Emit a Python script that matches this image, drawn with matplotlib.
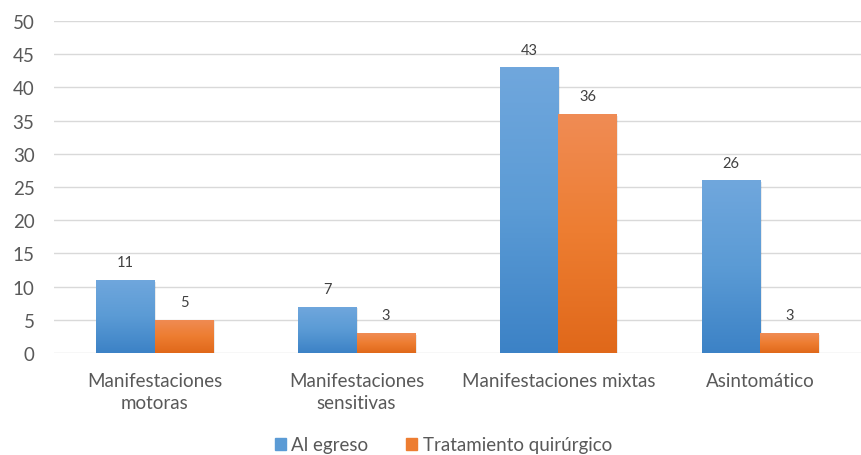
import matplotlib

matplotlib.use("Agg")
import matplotlib.pyplot as plt
import numpy as np
from matplotlib.colors import LinearSegmentedColormap

categories = ["Manifestaciones\nmotoras", "Manifestaciones\nsensitivas",
              "Manifestaciones mixtas", "Asintomático"]
al_egreso = [11, 7, 43, 26]
tratamiento = [5, 3, 36, 3]
series_names = ["Al egreso", "Tratamiento quirúrgico"]
y_ticks = [0, 5, 10, 15, 20, 25, 30, 35, 40, 45, 50]

plt.rcParams["font.family"] = ["Lato", "DejaVu Sans"]
TEXT = "#595959"

fig = plt.figure(figsize=(8.61, 4.56), dpi=100)
ax = fig.add_axes([0.0627, 0.2237, 0.9373, 0.7281])

x = np.arange(len(categories))
width = 0.29

blue_cm = LinearSegmentedColormap.from_list("b", ["#3c82c6", "#5b9bd5", "#70a7dd"])
orange_cm = LinearSegmentedColormap.from_list("o", ["#e0681a", "#ed7d31", "#f08c55"])
grad = np.linspace(0, 1, 256).reshape(-1, 1)


def draw_bars(xs, vals, cmap, face):
    bars = ax.bar(xs, vals, width, color=face, zorder=3)
    for b in bars:
        x0, y0 = b.get_x(), b.get_y()
        w, h = b.get_width(), b.get_height()
        # soft shadow
        ax.bar(x0 + w / 2 + 0.008, h, w, bottom=-0.25, color="#000000", alpha=0.08, zorder=2)
        im = ax.imshow(grad, cmap=cmap, origin="lower", aspect="auto",
                       extent=[x0, x0 + w, y0, y0 + h], zorder=4)
        im.set_clip_path(b)
    return bars


b1 = draw_bars(x - width / 2, al_egreso, blue_cm, "#5b9bd5")
b2 = draw_bars(x + width / 2, tratamiento, orange_cm, "#ed7d31")

for bars, vals in ((b1, al_egreso), (b2, tratamiento)):
    for b, v in zip(bars, vals):
        ax.text(b.get_x() + b.get_width() / 2, v + 1.6, str(v), ha="center", va="bottom",
                fontsize=10.5, color="#404040", zorder=5)

ax.set_xlim(-0.5, len(categories) - 0.5)
ax.set_ylim(0, 50)
ax.set_yticks(y_ticks)
ax.set_xticks(x)
ax.set_xticklabels(categories, fontsize=13.5, color=TEXT, linespacing=1.3)
ax.tick_params(axis="y", labelsize=13.5, colors=TEXT, length=0, pad=14)
ax.tick_params(axis="x", length=0, pad=14)
ax.grid(axis="y", color="#d9d9d9", linewidth=1, zorder=0)
for s in ax.spines.values():
    s.set_visible(False)

handles = [plt.Rectangle((0, 0), 1, 1, color="#5b9bd5"),
           plt.Rectangle((0, 0), 1, 1, color="#ed7d31")]
fig.legend(handles, series_names, loc="center", bbox_to_anchor=(0.515, 0.022),
           ncol=2, frameon=False, fontsize=13.5, labelcolor=TEXT,
           handlelength=0.6, handleheight=0.6, handletextpad=0.3, columnspacing=2.0)

fig.savefig("out.png", dpi=100)
